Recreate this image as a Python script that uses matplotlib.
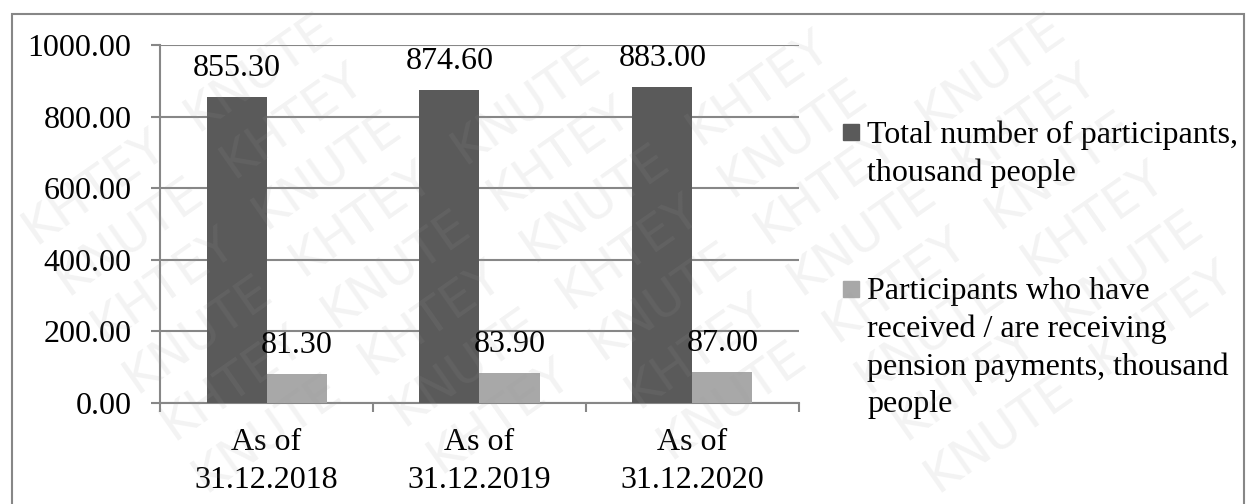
import matplotlib
matplotlib.use("Agg")
import matplotlib.pyplot as plt
from matplotlib.patches import Rectangle
import numpy as np

categories = ["As of\n31.12.2018", "As of\n31.12.2019", "As of\n31.12.2020"]
total_participants = [855.30, 874.60, 883.00]
pension_recipients = [81.30, 83.90, 87.00]
series_names = [
    "Total number of participants,\nthousand people",
    "Participants who have\nreceived / are receiving\npension payments, thousand\npeople",
]
series_colors = ["#5a5a5a", "#a8a8a8"]
y_ticks = [0, 200, 400, 600, 800, 1000]
watermark_words = ["KHTEY", "KNUTE"]

plt.rcParams["font.family"] = ["Liberation Serif", "DejaVu Serif"]
FS = 23
W, H = 1256, 504

fig = plt.figure(figsize=(W / 100, H / 100), dpi=100)
ax = fig.add_axes([160 / W, 1 - 403 / H, (799 - 160) / W, (403 - 45) / H])

x = np.arange(len(categories))
w = 60 / 213
series = [total_participants, pension_recipients]
for i, (vals, col) in enumerate(zip(series, series_colors)):
    pos = x + (i - 0.5) * w
    ax.bar(pos, vals, width=w, color=col, zorder=3)
    for p, v in zip(pos, vals):
        ax.annotate(f"{v:.2f}", (p, v), xytext=(0, 10), textcoords="offset points",
                    ha="center", va="bottom", fontsize=FS, zorder=4)

ax.set_xlim(-0.5, len(categories) - 0.5)
ax.set_ylim(0, 1000)
ax.set_yticks(y_ticks)
ax.set_yticklabels([f"{t:.2f}" for t in y_ticks], fontsize=FS)
ax.yaxis.grid(True, color="#878787", linewidth=1.5, zorder=0)
ax.set_axisbelow(True)

# category boundaries carry the tick marks, labels sit at the centres
ax.set_xticks(np.arange(-0.5, len(categories)), minor=False)
ax.set_xticklabels([])
ax.set_xticks(x, minor=True)
ax.set_xticklabels(categories, minor=True, fontsize=FS, linespacing=1.42)
ax.tick_params(axis="x", which="major", length=6.5, width=1.5, color="#878787", direction="out")
ax.tick_params(axis="x", which="minor", length=0, pad=18)
ax.tick_params(axis="y", length=6.5, width=1.5, color="#878787", pad=14)

for s in ["top", "right"]:
    ax.spines[s].set_visible(False)
for s in ["left", "bottom"]:
    ax.spines[s].set_color("#878787")
    ax.spines[s].set_linewidth(1.5)

# legend drawn beside the plot
legend_baselines = [146, 303]
for name, col, base in zip(series_names, series_colors, legend_baselines):
    fig.patches.append(Rectangle((843 / W, 1 - (base - 6) / H), 16 / W, 16 / H,
                                 transform=fig.transFigure, color=col))
    fig.text(867 / W, 1 - (base - 26) / H, name, fontsize=FS, va="top", ha="left",
             linespacing=1.38)

# chart frame
fig.patches.append(Rectangle((12 / W, -0.05), 1232 / W, 1.05 - 14 / H,
                             transform=fig.transFigure, fill=False,
                             edgecolor="#878787", linewidth=1.5))

# diagonal watermark, tiled word by word
ang = np.deg2rad(35)
u = np.array([np.cos(ang), np.sin(ang)])
v = np.array([-np.sin(ang), np.cos(ang)])
step, gap = 200, 60
origin = np.array([W / 2, H / 2])
marks = []
for r in range(-16, 17):
    for c in range(-12, 13):
        px, py = origin + c * step * u + r * gap * v
        if -150 < px < W + 150 and -150 < py < H + 150:
            t = fig.text(px / W, py / H, watermark_words[(c + r) % 2], fontsize=36,
                         family="DejaVu Sans", color="#9a9a9a", alpha=0.12,
                         rotation=0, ha="center", va="center", zorder=10)
            marks.append((t, px, py))
fig.canvas.draw()
rend = fig.canvas.get_renderer()
for t, px, py in marks:
    bb = t.get_window_extent(rend)
    hw, hh = bb.width / 2 - 2, bb.height / 2 - 6
    corners = [np.array([px, py]) + sx * hw * u + sy * hh * v
               for sx in (-1, 1) for sy in (-1, 1)]
    if all(0 <= cx <= W and 0 <= cy <= H for cx, cy in corners):
        t.set_rotation(35)
        t.set_rotation_mode("anchor")
    else:
        t.remove()

fig.savefig("out.png", dpi=100)
